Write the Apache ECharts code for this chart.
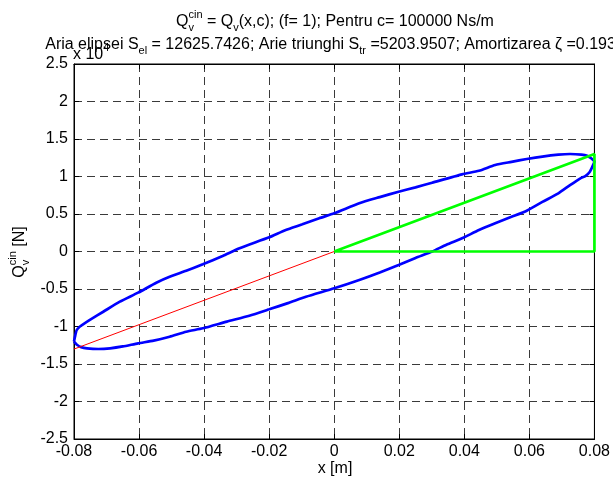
<!DOCTYPE html>
<html>
<head>
<meta charset="utf-8">
<script src="https://cdn.jsdelivr.net/npm/echarts@6/dist/echarts.min.js"></script>
<style>
  html, body { margin: 0; padding: 0; background: #fff; }
  #chart { width: 613px; height: 480px; }
</style>
</head>
<body>
<div id="chart"></div>
<script>
// Hysteresis loop Q_v(x) for c = 100000 Ns/m, displacement in m, force in N
const loopX = [
  -0.0800, -0.0797, -0.0792, -0.0783, -0.0771, -0.0745, -0.0710, -0.0659,
  -0.0603, -0.0547, -0.0506, -0.0455, -0.0404, -0.0343, -0.0291, -0.0200,
  -0.0149, -0.0098, -0.0046, 0.0000, 0.0077, 0.0140, 0.0198, 0.0250,
  0.0301, 0.0393, 0.0445, 0.0495, 0.0545, 0.0592, 0.0640, 0.0689,
  0.0725, 0.0760, 0.0778, 0.0790, 0.0797, 0.0800, 0.0794, 0.0786,
  0.0772, 0.0757, 0.0725, 0.0689, 0.0640, 0.0592, 0.0545, 0.0495,
  0.0445, 0.0393, 0.0345, 0.0301, 0.0250, 0.0198, 0.0140, 0.0077,
  0.0000, -0.0087, -0.0140, -0.0200, -0.0261, -0.0330, -0.0404, -0.0455,
  -0.0506, -0.0555, -0.0603, -0.0650, -0.0689, -0.0725, -0.0760, -0.0778,
  -0.0790, -0.0797, -0.0800
];
const loopY = [
  -12000, -11350, -10500, -10050, -9670, -8950, -8030, -6690,
  -5490, -4160, -3360, -2580, -1710, -600, 430, 1890,
  2870, 3620, 4430, 5090, 6430, 7250, 7970, 8550,
  9170, 10290, 10760, 11530, 11950, 12330, 12660, 12910,
  13000, 12910, 12750, 12430, 12150, 12000, 11350, 10640,
  10050, 9760, 8850, 7760, 6610, 5440, 4620, 3760,
  2860, 1760, 910, 0, -860, -1800, -2800, -3800,
  -4910, -6030, -6850, -7710, -8560, -9350, -10240, -10700,
  -11360, -11880, -12240, -12660, -12910, -13000, -12910, -12750,
  -12470, -12150, -12000
];
// Reference line through the origin and the triangle used for S_tr
const lineX = [-0.08, 0];
const lineY = [-13010, 0];
const triX = [0, 0.08, 0.08, 0];
const triY = [0, 13010, 0, 0];

// Axis ticks
const xTicks = { min: -0.08, max: 0.08, step: 0.02 };
const yTicks = { min: -25000, max: 25000, step: 5000 };
const yScale = 10000;

const FONT = '"Liberation Sans", Arial, Helvetica, sans-serif';
const FS = 16;

const zip = (xs, ys) => xs.map((x, i) => [x, ys[i]]);

// Text with sub/superscripts laid out as separate text pieces
const mctx = document.createElement('canvas').getContext('2d');
function tw(t, size) { mctx.font = size + 'px ' + FONT; return mctx.measureText(t).width; }
function mathText(runs, size, ax, ay, align) {
  const ss = Math.round(size * 0.7);
  const supDy = -0.42 * size, subDy = 0.36 * size;
  const widths = runs.map(r => r.t !== undefined ? tw(r.t, size)
    : Math.max(r.sup ? tw(r.sup, ss) : 0, r.sub ? tw(r.sub, ss) : 0));
  const total = widths.reduce((a, b) => a + b, 0);
  let x = align === 'center' ? ax - total / 2 : ax;
  const out = [];
  const mk = (t, px, py, s) => ({
    type: 'text', x: px, y: py, silent: true,
    style: { text: t, fontSize: s, fontFamily: FONT, fill: '#000', align: 'left', verticalAlign: 'middle' }
  });
  runs.forEach((r, i) => {
    if (r.t !== undefined) out.push(mk(r.t, x, ay, size));
    if (r.sup) out.push(mk(r.sup, x, ay + supDy, ss));
    if (r.sub) out.push(mk(r.sub, x, ay + subDy, ss));
    x += widths[i];
  });
  return out;
}

const title1 = [{ t: 'Q' }, { sup: 'cin', sub: 'v' }, { t: ' = Q' }, { sub: 'v' },
  { t: '(x,c); (f= 1); Pentru c= 100000 Ns/m' }];
const title2 = [{ t: 'Aria elipsei S' }, { sub: 'el' }, { t: ' = 12625.7426; Arie triunghi S' },
  { sub: 'tr' }, { t: ' =5203.9507; Amortizarea \u03B6 =0.1930' }];
const yName = [{ t: 'Q' }, { sup: 'cin', sub: 'v' }, { t: ' [N]' }];
const expo = [{ t: 'x 10' }, { sup: '4' }];

const G = { left: 74, right: 17, top: 64, bottom: 41 };
const cx = G.left + (613 - G.left - G.right) / 2;

const fmtX = v => Math.abs(v) < 1e-9 ? '0' : (+v.toFixed(2)).toString();
const fmtY = v => { const t = Math.round(v / yScale * 10) / 10; return Math.abs(t) < 1e-9 ? '0' : String(t); };

const gridLine = { show: true, lineStyle: { color: '#3a3a3a', width: 1, type: [8, 5] } };
const tickIn = { show: true, inside: true, length: 5, lineStyle: { color: '#000' } };

const chart = echarts.init(document.getElementById('chart'), null, { renderer: 'canvas' });
chart.setOption({
  animation: false,
  backgroundColor: '#fff',
  grid: { left: G.left, right: G.right, top: G.top, bottom: G.bottom, show: true, borderColor: '#000', borderWidth: 1 },
  xAxis: [{
    type: 'value', min: xTicks.min, max: xTicks.max, interval: xTicks.step,
    axisLine: { onZero: false, lineStyle: { color: '#000' } }, axisTick: tickIn,
    axisLabel: { color: '#000', fontSize: FS, fontFamily: FONT, margin: 5, formatter: fmtX },
    splitLine: gridLine
  }, {
    type: 'value', position: 'top', min: xTicks.min, max: xTicks.max, interval: xTicks.step,
    axisLine: { onZero: false, lineStyle: { color: '#000' } }, axisTick: tickIn,
    axisLabel: { show: false }, splitLine: { show: false }
  }],
  yAxis: [{
    type: 'value', min: yTicks.min, max: yTicks.max, interval: yTicks.step,
    axisLine: { onZero: false, lineStyle: { color: '#000' } }, axisTick: tickIn,
    axisLabel: { color: '#000', fontSize: FS, fontFamily: FONT, margin: 6, formatter: fmtY },
    splitLine: gridLine
  }, {
    type: 'value', position: 'right', min: yTicks.min, max: yTicks.max, interval: yTicks.step,
    axisLine: { onZero: false, lineStyle: { color: '#000' } }, axisTick: tickIn,
    axisLabel: { show: false }, splitLine: { show: false }
  }],
  series: [{
    type: 'line', data: zip(loopX, loopY), showSymbol: false, symbol: 'none', smooth: 0.2,
    lineStyle: { color: '#0000ff', width: 2.7 }, z: 3
  }, {
    type: 'line', data: zip(lineX, lineY), showSymbol: false, symbol: 'none',
    lineStyle: { color: '#ff0000', width: 1 }, z: 4
  }, {
    type: 'line', data: zip(triX, triY), showSymbol: false, symbol: 'none',
    lineStyle: { color: '#00ff00', width: 2.7 }, z: 5
  }],
  graphic: [
    ...mathText(title1, FS, cx, 22, 'center'),
    ...mathText(title2, FS, cx, 45, 'center'),
    ...mathText(expo, FS, 73, 55, 'left'),
    { type: 'text', x: cx, y: 469, silent: true,
      style: { text: 'x [m]', fontSize: FS, fontFamily: FONT, fill: '#000', align: 'center', verticalAlign: 'middle' } },
    { type: 'group', x: 20, y: 252, rotation: Math.PI / 2, silent: true,
      children: mathText(yName, FS, 0, 0, 'center') }
  ]
});
</script>
</body>
</html>
